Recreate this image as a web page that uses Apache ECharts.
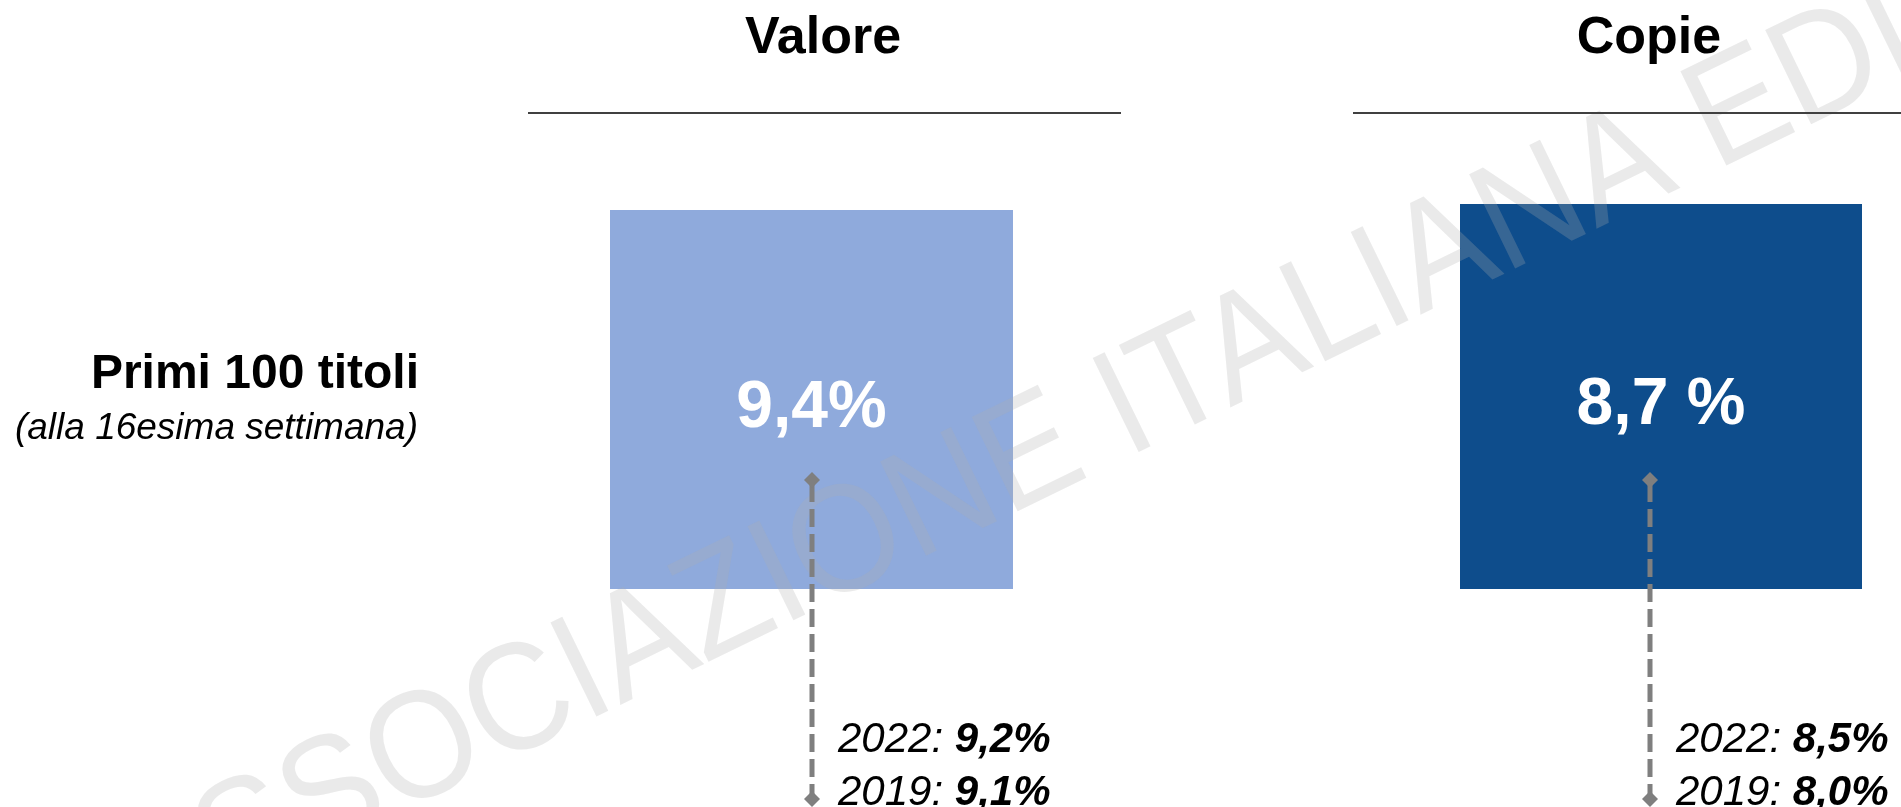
<!DOCTYPE html>
<html>
<head>
<meta charset="utf-8">
<style>
  html, body { margin: 0; padding: 0; background: #fff; }
  #chart { width: 1901px; height: 807px; }
</style>
<script src="https://cdn.jsdelivr.net/npm/echarts@6.0.0/dist/echarts.min.js"></script>
</head>
<body>
<div id="chart"></div>
<script>
// data
const groups = ['Valore', 'Copie']
const shares = [9.4, 8.7]
const shareLabels = ['9,4%', '8,7 %']
const share2022 = [9.2, 8.5]
const share2019 = [9.1, 8.0]
const rowTitle = 'Primi 100 titoli'
const rowNote = '(alla 16esima settimana)'
const watermark = 'ASSOCIAZIONE ITALIANA EDITORI'

const FONT = '"Liberation Sans", Arial, sans-serif'
const barColors = ['#8faadc', '#0e4d8c']
const grids = [
  { left: 610, width: 403, top: 210, height: 379 },
  { left: 1460, width: 402, top: 204, height: 385 },
]
const titleX = [823, 1649]
const headerLines = [[528, 1121], [1353, 1901]]
const connectorX = [812, 1650]

const fmt = (v) => v.toFixed(1).replace('.', ',') + '%'

const chart = echarts.init(document.getElementById('chart'))

const graphic = []
// watermark across the slide
graphic.push({
  type: 'text', x: 1166, y: 392, rotation: 26 * Math.PI / 180, scaleY: 1.08, z: 100, silent: true,
  style: { text: watermark, fontFamily: FONT, fontSize: 141, fill: 'rgba(175,175,175,0.26)', align: 'center', verticalAlign: 'middle' },
})
groups.forEach((name, i) => {
  graphic.push({
    type: 'text', x: titleX[i], y: 39, z: 120,
    style: { text: name, fontFamily: FONT, fontWeight: 'bold', fontSize: 52, fill: '#000', align: 'center', verticalAlign: 'middle' },
  })
  graphic.push({
    type: 'line', z: 120,
    shape: { x1: headerLines[i][0], y1: 113, x2: headerLines[i][1], y2: 113 },
    style: { stroke: '#404040', lineWidth: 2 },
  })
  const cx = connectorX[i]
  graphic.push({
    type: 'line', z: 110,
    shape: { x1: cx, y1: 484, x2: cx, y2: 800 },
    style: { stroke: '#7f7f7f', lineWidth: 5, lineDash: [18, 7] },
  })
  ;[480, 799].forEach((cy) => graphic.push({
    type: 'polygon', z: 111,
    shape: { points: [[cx, cy - 8], [cx + 8, cy], [cx, cy + 8], [cx - 8, cy]] },
    style: { fill: '#7f7f7f' },
  }))
  const rich = {
    y: { fontFamily: FONT, fontStyle: 'italic', fontSize: 42, fill: '#000' },
    v: { fontFamily: FONT, fontStyle: 'italic', fontWeight: 'bold', fontSize: 42, fill: '#000' },
  }
  graphic.push({
    type: 'text', x: cx + 26, y: 740, z: 120,
    style: { text: '{y|2022: }{v|' + fmt(share2022[i]) + '}', rich, align: 'left', verticalAlign: 'middle' },
  })
  graphic.push({
    type: 'text', x: cx + 26, y: 793, z: 120,
    style: { text: '{y|2019: }{v|' + fmt(share2019[i]) + '}', rich, align: 'left', verticalAlign: 'middle' },
  })
})
graphic.push({
  type: 'text', x: 419, y: 375, z: 120,
  style: { text: rowTitle, fontFamily: FONT, fontWeight: 'bold', fontSize: 48, fill: '#000', align: 'right', verticalAlign: 'middle' },
})
graphic.push({
  type: 'text', x: 418, y: 429, z: 120,
  style: { text: rowNote, fontFamily: FONT, fontStyle: 'italic', fontSize: 37, fill: '#000', align: 'right', verticalAlign: 'middle' },
})

chart.setOption({
  animation: false,
  backgroundColor: '#fff',
  grid: grids,
  xAxis: groups.map((name, i) => ({ gridIndex: i, type: 'category', data: [name], show: false })),
  yAxis: shares.map((v, i) => ({ gridIndex: i, type: 'value', min: 0, max: v, show: false })),
  series: groups.map((name, i) => ({
    name, type: 'bar', xAxisIndex: i, yAxisIndex: i, barWidth: '100%',
    data: [shares[i]],
    itemStyle: { color: barColors[i] },
    label: {
      show: true, position: 'inside', offset: [0, 9],
      formatter: () => shareLabels[i],
      fontFamily: FONT, fontWeight: 'bold', fontSize: 66, color: '#fff',
    },
  })),
  graphic,
})
</script>
</body>
</html>
